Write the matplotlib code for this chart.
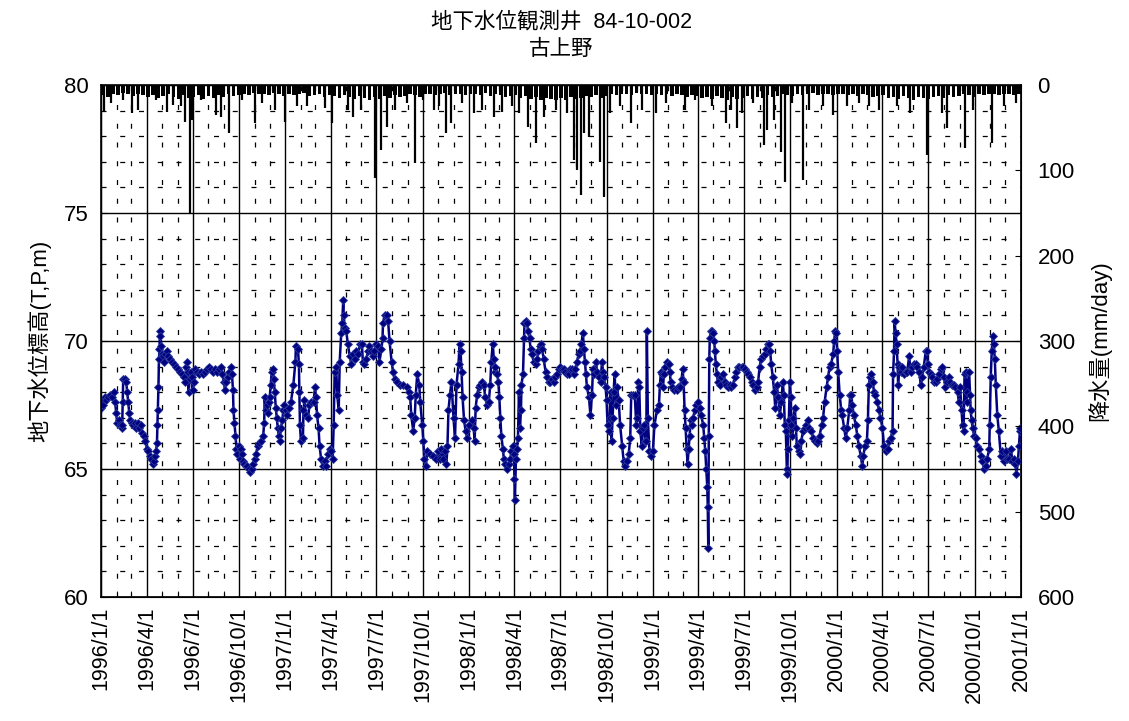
import numpy as np
import matplotlib
matplotlib.use('Agg')
import matplotlib.pyplot as plt
import matplotlib.dates as mdates
from matplotlib.ticker import MultipleLocator, FuncFormatter

plt.rcParams['font.family'] = ['Liberation Sans', 'Noto Sans CJK JP']

# groundwater level (days since 1996/1/1, T.P. m)
level_day = [
    0, 2, 4, 7, 10, 14, 18, 22, 25, 28, 30, 32, 35, 38, 41, 42, 43, 44, 47, 50, 52, 54, 56, 58, 61, 64, 67, 70, 73,
    76, 79, 82, 85, 88, 91, 94, 97, 100, 103, 105, 107, 109, 111, 112, 113, 114, 115, 116, 117, 118, 120, 122, 124,
    126, 128, 130, 133, 136, 140, 144, 148, 152, 156, 160, 164, 167, 169, 170, 172, 174, 176, 178, 180, 182, 184,
    187, 190, 194, 198, 202, 206, 210, 214, 218, 222, 226, 230, 234, 238, 241, 244, 246, 249, 252, 255, 258, 260,
    262, 263, 265, 267, 269, 271, 273, 275, 277, 279, 281, 284, 287, 290, 293, 296, 299, 302, 305, 308, 311, 314,
    318, 322, 324, 325, 327, 329, 331, 333, 335, 337, 339, 341, 343, 345, 347, 349, 351, 353, 355, 357, 360, 362, 364,
    367, 370, 374, 377, 382, 386, 387, 391, 393, 394, 395, 397, 401, 402, 404, 407, 411, 414, 417, 422, 425, 427,
    429, 432, 434, 437, 440, 444, 447, 450, 454, 457, 460, 462, 464, 467, 469, 472, 474, 477, 479, 481, 482, 484,
    487, 490, 494, 497, 500, 504, 507, 510, 515, 518, 520, 523, 527, 530, 533, 537, 540, 543, 547, 550, 553, 557,
    559, 560, 563, 567, 570, 573, 577, 580, 583, 587, 593, 600, 607, 612, 614, 616, 620, 623, 625, 628, 632, 634,
    638, 640, 642, 645, 648, 653, 660, 666, 670, 673, 676, 680, 684, 686, 688, 690, 693, 696, 700, 703, 706, 710,
    712, 714, 716, 718, 721, 724, 727, 731, 736,
    740, 742, 744, 747, 750, 753, 757, 760, 763, 767, 770, 773, 775, 778, 780, 782, 783, 787, 789, 791, 793, 795,
    798, 800, 803, 806, 810, 813, 815, 818, 820, 821, 822, 824, 826, 828, 830, 832, 834, 835, 838, 840, 841, 844,
    846, 848, 851, 853, 856, 859, 863, 866, 868, 871, 873, 876, 879, 883, 886, 889, 892, 896, 899, 902, 906, 909,
    912, 916, 919, 922, 926, 929, 932, 935, 939, 942, 945, 949, 952, 954, 957, 959, 961, 963, 965, 969, 972, 975,
    977, 980, 983, 985, 988, 992, 995, 997, 998, 1002, 1004, 1006, 1008, 1010, 1012, 1014, 1016, 1018, 1020, 1023,
    1025, 1028, 1031, 1035, 1038, 1041, 1045, 1048, 1051, 1053, 1056, 1060, 1063, 1065, 1067, 1069, 1071, 1074,
    1076, 1079, 1081, 1083, 1084, 1086, 1089, 1092, 1096, 1099, 1104,
    1108, 1110, 1112, 1114, 1116, 1118, 1121, 1125, 1128, 1130, 1131, 1134, 1138, 1143, 1146, 1149, 1153, 1155,
    1157, 1159, 1161, 1163, 1165, 1167, 1169, 1171, 1174, 1176, 1179, 1182, 1186, 1189, 1192, 1196, 1198, 1200,
    1202, 1204, 1205, 1206, 1207, 1208, 1209, 1211, 1214, 1216, 1218, 1219, 1221, 1223, 1225, 1229, 1232, 1235,
    1239, 1242, 1245, 1249, 1252, 1255, 1259, 1262, 1265, 1268, 1272, 1275, 1278, 1282, 1285, 1288, 1292, 1295,
    1298, 1302, 1305, 1308, 1311, 1315, 1318, 1321, 1325, 1327, 1329, 1331, 1334, 1337, 1339, 1342, 1345, 1348,
    1351, 1354, 1356, 1358, 1360, 1362, 1363, 1364, 1366, 1368, 1370, 1371, 1373, 1375, 1378, 1380, 1382, 1386,
    1389, 1391, 1394, 1398, 1401, 1404, 1407, 1411, 1414, 1417, 1421, 1424, 1427, 1431, 1434, 1437, 1441, 1444,
    1447, 1450, 1454, 1456, 1458, 1460, 1462, 1464, 1467, 1470,
    1472, 1476, 1479, 1482, 1486, 1488, 1490, 1492, 1495, 1499, 1502, 1505, 1509, 1512, 1514, 1517, 1521, 1523,
    1525, 1527, 1530, 1533, 1535, 1538, 1542, 1545, 1548, 1552, 1555, 1558, 1562, 1565, 1568, 1572, 1573, 1575,
    1576, 1578, 1580, 1582, 1583, 1585, 1588, 1591, 1595, 1598, 1601, 1605, 1608, 1611, 1615, 1618, 1621, 1625,
    1628, 1631, 1634, 1638, 1640, 1642, 1644, 1648, 1651, 1654, 1658, 1661, 1664, 1668, 1671, 1674, 1677, 1681,
    1684, 1687, 1691, 1694, 1697, 1701, 1704, 1706, 1709, 1711, 1713, 1715, 1717, 1719, 1720, 1724, 1726, 1727,
    1729, 1731, 1734, 1737, 1740, 1744, 1747, 1750, 1754, 1757, 1760, 1764, 1765, 1767, 1769, 1771, 1773, 1775,
    1777, 1780, 1783, 1787, 1790, 1793, 1797, 1800, 1803, 1807, 1810, 1813, 1816, 1818, 1821, 1823, 1825, 1826,
]
level_m = [
    67.4, 67.6, 67.5, 67.8, 67.7, 67.8, 67.9, 67.8, 68.0, 67.6, 67.2, 66.8, 66.9, 66.7, 66.6, 66.7, 67.6, 68.5, 68.5,
    68.4, 68.0, 67.6, 67.2, 66.9, 66.8, 66.7, 66.8, 66.6, 66.8, 66.6, 66.7, 66.4, 66.3, 66.1, 65.8, 65.7, 65.5, 65.4,
    65.2, 65.3, 65.5, 65.7, 66.0, 66.7, 67.3, 68.2, 69.3, 69.7, 70.4, 70.2, 69.8, 69.5, 69.4, 69.2, 69.5, 69.6, 69.4,
    69.3, 69.2, 69.1, 69.0, 68.9, 68.8, 68.7, 68.6, 68.4, 69.0, 69.2, 68.8, 68.0, 68.5, 68.8, 68.6, 68.1, 68.4, 68.9,
    68.8, 68.7, 68.8, 68.7, 68.8, 68.9, 69.0, 68.9, 68.8, 68.9, 68.8, 68.9, 69.0, 68.7, 68.4, 68.1, 68.4, 68.6, 68.8,
    69.0, 68.7, 68.1, 67.3, 66.8, 66.3, 65.8, 65.6, 65.9, 65.4, 65.8, 65.6, 65.3, 65.2, 65.1, 65.1, 65.0, 64.9, 65.0,
    65.2, 65.4, 65.6, 65.9, 66.0, 66.1, 66.3, 66.8, 67.8, 67.3, 67.5, 67.2, 67.6, 67.8, 68.3, 68.8, 68.9, 68.5, 68.0,
    67.4, 67.0, 66.6, 66.3, 66.1, 66.6, 66.9, 67.3, 67.5,
    67.3, 67.1, 67.4, 67.6, 68.3, 69.2, 69.8, 69.7, 69.1, 68.0, 66.7, 66.1, 66.2, 67.3, 67.7, 67.1, 67.0, 67.5, 67.6,
    67.6, 68.2, 67.8, 67.1, 66.6, 65.9, 65.4, 65.1, 65.3, 65.1, 65.6, 65.8, 65.7, 65.4, 66.7, 68.8, 69.0, 67.9, 67.3,
    69.2, 70.3, 70.7, 71.6, 71.0, 70.5, 70.4, 69.9, 69.4, 69.1, 69.5, 69.3, 69.6, 69.5, 69.9, 69.9, 69.2, 69.1, 69.3,
    69.6, 69.8, 69.6, 69.4, 69.6, 69.9, 69.8, 69.2, 69.7, 70.1, 70.7, 71.0, 71.0, 70.8, 70.0, 69.2, 68.8, 68.5, 68.4,
    68.3, 68.3, 68.2, 68.0, 67.8, 67.1, 66.5, 67.0, 67.9, 68.7, 68.3, 67.6, 66.7, 66.1, 65.4, 65.1, 65.7, 65.6, 65.5,
    65.4, 65.7, 65.4, 65.8, 65.4, 65.7, 65.2, 65.9, 67.3, 67.9, 68.4, 67.0, 66.2, 68.3, 69.1, 69.9, 69.6, 68.8, 67.8,
    66.9, 66.5, 66.2, 66.7, 66.9,
    66.6, 66.1, 67.4, 67.9, 68.2, 68.3, 68.4, 68.3, 67.8, 67.5, 67.6, 68.3, 69.2, 69.9, 69.3, 68.8, 69.0, 68.7, 68.4,
    67.8, 67.0, 66.3, 65.8, 65.4, 65.2, 65.0, 65.2, 65.4, 65.7, 65.9, 65.6, 64.6, 63.8, 65.4, 65.8, 66.2, 68.0, 66.6,
    67.3, 68.3, 68.7, 70.1, 70.7, 70.8, 70.7, 70.4, 70.1, 69.7, 69.5, 69.2, 69.1, 69.3, 69.6, 69.8, 69.9, 69.7, 69.3,
    68.8, 68.6, 68.4, 68.4, 68.5, 68.4, 68.6, 68.7, 68.9, 69.0, 68.9, 68.9, 68.8, 68.7, 68.7, 68.9, 68.9, 68.7, 68.9,
    69.2, 69.5, 69.6, 69.9, 70.3, 69.7, 69.2, 68.7, 68.2, 67.8, 67.1, 67.9, 68.9, 68.7, 69.2, 68.8, 68.6, 68.4, 69.2,
    68.8, 68.6, 68.2, 67.7, 66.7, 66.5, 67.0, 68.0, 66.1, 67.0, 68.0, 68.7, 67.5, 68.2, 67.7, 66.7, 65.9, 65.3, 65.1,
    65.3, 65.6, 66.2, 67.9, 67.9, 67.9, 66.7, 67.0, 68.4, 68.2, 66.5, 65.9, 66.6, 66.7, 66.1, 66.1, 70.4, 67.0, 65.7,
    65.5, 65.7, 66.7, 67.3,
    67.5, 68.3, 68.8, 68.7, 68.2, 68.7, 69.0, 69.2, 69.1, 68.8, 68.4, 68.2, 68.1, 68.1, 68.2, 68.2, 68.5, 68.9, 68.4,
    67.3, 66.6, 65.8, 65.2, 65.8, 66.3, 66.9, 66.7, 67.0, 67.3, 67.5, 67.6, 67.4, 67.1, 66.7, 66.2, 65.7, 65.0, 64.3,
    63.5, 61.9, 66.3, 69.3, 70.1, 70.4, 70.4, 70.3, 70.0, 69.6, 69.1, 68.7, 68.4, 68.3, 68.6, 68.7, 68.4, 68.3, 68.2,
    68.3, 68.2, 68.3, 68.6, 68.8, 69.0, 69.0, 69.0, 69.0, 68.9, 68.8, 68.7, 68.6, 68.4, 68.3, 68.1, 68.2, 68.4, 69.0,
    69.3, 69.4, 69.5, 69.7, 69.9, 69.9, 69.6, 69.1, 68.6, 68.0, 67.4, 68.3, 67.8, 67.1, 67.6, 68.4, 67.9, 66.7, 66.5,
    65.0, 64.8, 65.8, 66.9, 68.4, 67.8, 66.7, 66.3, 67.0, 67.4, 66.6, 65.9, 65.7, 65.6, 66.1, 66.5, 66.6, 66.7, 66.9,
    66.6, 66.5, 66.2, 66.1, 66.0, 66.1, 66.3, 66.7, 67.0, 67.6, 68.2, 68.6, 69.0, 69.1, 69.5, 70.0, 70.4, 70.3, 69.6,
    68.8, 67.9, 67.3,
    67.1, 66.6, 66.2, 66.6, 67.3, 67.9, 67.9, 67.5, 67.1, 66.7, 66.3, 65.9, 65.5, 65.1, 65.5, 65.9, 66.1, 66.9, 68.3,
    68.6, 68.7, 68.4, 68.0, 67.9, 67.6, 67.3, 67.0, 66.6, 65.9, 65.7, 65.8, 66.1, 66.2, 66.5, 68.7, 69.6, 70.8, 70.3,
    69.9, 69.1, 68.3, 69.0, 68.8, 69.0, 68.7, 68.8, 68.8, 69.4, 68.8, 69.0, 69.1, 69.1, 69.0, 68.8, 68.3, 68.6, 69.0,
    69.6, 69.6, 69.1, 68.8, 68.7, 68.6, 68.4, 68.4, 68.5, 68.7, 68.9, 69.0, 68.6, 68.2, 68.4, 68.6, 68.4, 68.3, 68.3,
    68.2, 68.0, 67.6, 68.2, 67.3, 66.7, 66.5, 68.7, 68.8, 67.6, 68.0, 68.8, 67.9, 67.3, 66.9, 66.6, 66.3, 66.2, 65.9,
    65.8, 65.5, 65.3, 65.0, 65.1, 65.4, 65.8, 66.7, 68.6, 69.6, 70.2, 69.9, 69.3, 68.3, 67.1, 66.5, 65.5, 65.7, 65.3,
    65.7, 65.4, 65.4, 65.8, 65.3, 65.4, 65.2, 64.8, 65.3, 65.9, 66.5, 66.6,
]

# heavy daily rainfall (days since 1996/1/1, mm/day)
rain_day = [
    5, 20, 43, 61, 73, 110, 130, 142, 158, 166, 176, 180, 199, 229, 239, 255, 279, 305, 319, 345, 366, 390, 410,
    444, 458, 490, 500, 517, 545, 557, 567, 583, 607, 623, 639, 662, 672, 686, 696, 716, 741, 757, 781, 797, 817,
    831, 847, 864, 880, 904, 926, 940, 946, 954, 960, 970, 990, 998, 1010, 1030, 1053, 1075, 1103, 1123, 1159, 1179,
    1213, 1242, 1252, 1264, 1272, 1294, 1317, 1323, 1337, 1351, 1359, 1373, 1395, 1407, 1433, 1453, 1481, 1506,
    1526, 1546, 1580, 1606, 1640, 1671, 1681, 1715, 1731, 1769, 1794, 1818,
]
rain_mm = [
    31, 21, 18, 33, 29, 18, 31, 23, 25, 43, 150, 41, 18, 35, 37, 56, 18, 45, 21, 29, 43, 25, 25,
    27, 45, 29, 37, 29, 109, 76, 49, 29, 21, 91, 18, 29, 25, 56, 45, 21, 33, 29, 37, 31, 25,
    33, 49, 68, 37, 29, 33, 88, 100, 129, 56, 61, 90, 131, 33, 25, 45, 29, 33, 21, 29, 18,
    25, 45, 29, 50, 33, 21, 70, 53, 41, 78, 114, 21, 111, 29, 25, 35, 25, 21,
    25, 29, 25, 33, 82, 33, 50, 74, 29, 68, 25, 21,
]

# typical light rain depth per 10-day period (mm/day)
light_rain_10d = [
    12, 14, 10, 12, 9, 11, 13, 10, 12, 14, 12, 15, 13, 11, 14, 16, 12, 15, 14, 12, 16, 13, 15, 12, 14, 11, 13, 12,
    10, 12, 9, 11, 10, 12, 9, 11, 13,
    10, 12, 11, 9, 13, 12, 10, 14, 12, 13, 15, 12, 14, 16, 13, 15, 17, 14, 16, 13, 15, 12, 14, 13, 11, 12, 14, 11,
    10, 12, 11, 9, 12, 10, 11, 12,
    11, 10, 12, 9, 13, 11, 12, 14, 13, 12, 15, 13, 16, 14, 17, 15, 16, 18, 15, 17, 14, 16, 15, 13, 14, 12, 15, 13,
    11, 12, 10, 11, 12, 9, 11, 10, 12,
    11, 12, 10, 13, 11, 12, 14, 12, 13, 15, 14, 16, 13, 15, 17, 14, 16, 15, 13, 16, 14, 15, 12, 14, 13, 11, 12, 13,
    10, 12, 11, 9, 12, 10, 11, 12,
    10, 11, 12, 10, 13, 11, 12, 14, 13, 12, 15, 14, 16, 13, 15, 17, 14, 15, 16, 14, 13, 15, 12, 14, 13, 11, 12, 14,
    11, 12, 10, 11, 12, 10, 11, 12, 11,
]

start = np.datetime64('1996-01-01')
end = np.datetime64('2001-01-01')
level_dates = start + np.array(level_day).astype('timedelta64[D]')
rain_dates = start + np.array(rain_day).astype('timedelta64[D]')
light_dates = start + (np.arange(len(light_rain_10d)) * 10).astype('timedelta64[D]')

fig = plt.figure(figsize=(11.29, 7.21), dpi=100)
ax = fig.add_axes([0.0895, 0.172, 0.8148, 0.710])

ax.plot(level_dates, level_m, color='#000080', lw=1.8, marker='D', markersize=3.6,
        markeredgewidth=0.6, markeredgecolor='#2a3a9a', zorder=3)

ax.set_xlim(start, end)
ax.set_ylim(60, 80)
ax.yaxis.set_major_locator(MultipleLocator(5))
ax.yaxis.set_minor_locator(MultipleLocator(1))
ax.xaxis.set_major_locator(mdates.MonthLocator(bymonth=[1, 4, 7, 10]))
ax.xaxis.set_minor_locator(mdates.MonthLocator())


def date_label(x, pos):
    d = mdates.num2date(x)
    return f'{d.year}/{d.month}/{d.day}'


ax.xaxis.set_major_formatter(FuncFormatter(date_label))
ax.grid(which='major', color='black', lw=1.0)
ax.grid(which='minor', color='black', lw=0.9, linestyle=(0, (4, 11)))
ax.tick_params(axis='x', which='major', direction='in', length=0, labelsize=15.5, labelrotation=90, pad=7)
ax.tick_params(axis='x', which='minor', direction='in', length=4)
ax.tick_params(axis='y', which='major', direction='in', length=4, labelsize=16, pad=9)
ax.tick_params(axis='y', which='minor', length=0)
for lab in ax.get_xticklabels():
    lab.set_verticalalignment('top')
for sp in ax.spines.values():
    sp.set_linewidth(1.2)

ax2 = ax.twinx()
ax2.bar(light_dates, light_rain_10d, width=7, align='edge', color='black', lw=0)
ax2.vlines(rain_dates, 0, rain_mm, color='black', lw=1.6)
ax2.set_ylim(600, 0)
ax2.set_xlim(start, end)
ax2.yaxis.set_major_locator(MultipleLocator(100))
ax2.tick_params(axis='y', direction='in', length=4, labelsize=16, pad=12)

fig.text(0.035, 0.527, '地下水位標高(T,P,m)', rotation=90, ha='center', va='center', fontsize=16)
fig.text(0.974, 0.527, '降水量(mm/day)', rotation=90, ha='center', va='center', fontsize=16)
fig.text(0.497, 0.969, '地下水位観測井  84-10-002', ha='center', va='center', fontsize=15.5)
fig.text(0.497, 0.931, '古上野', ha='center', va='center', fontsize=15.5)

fig.savefig('out.png', dpi=100)
